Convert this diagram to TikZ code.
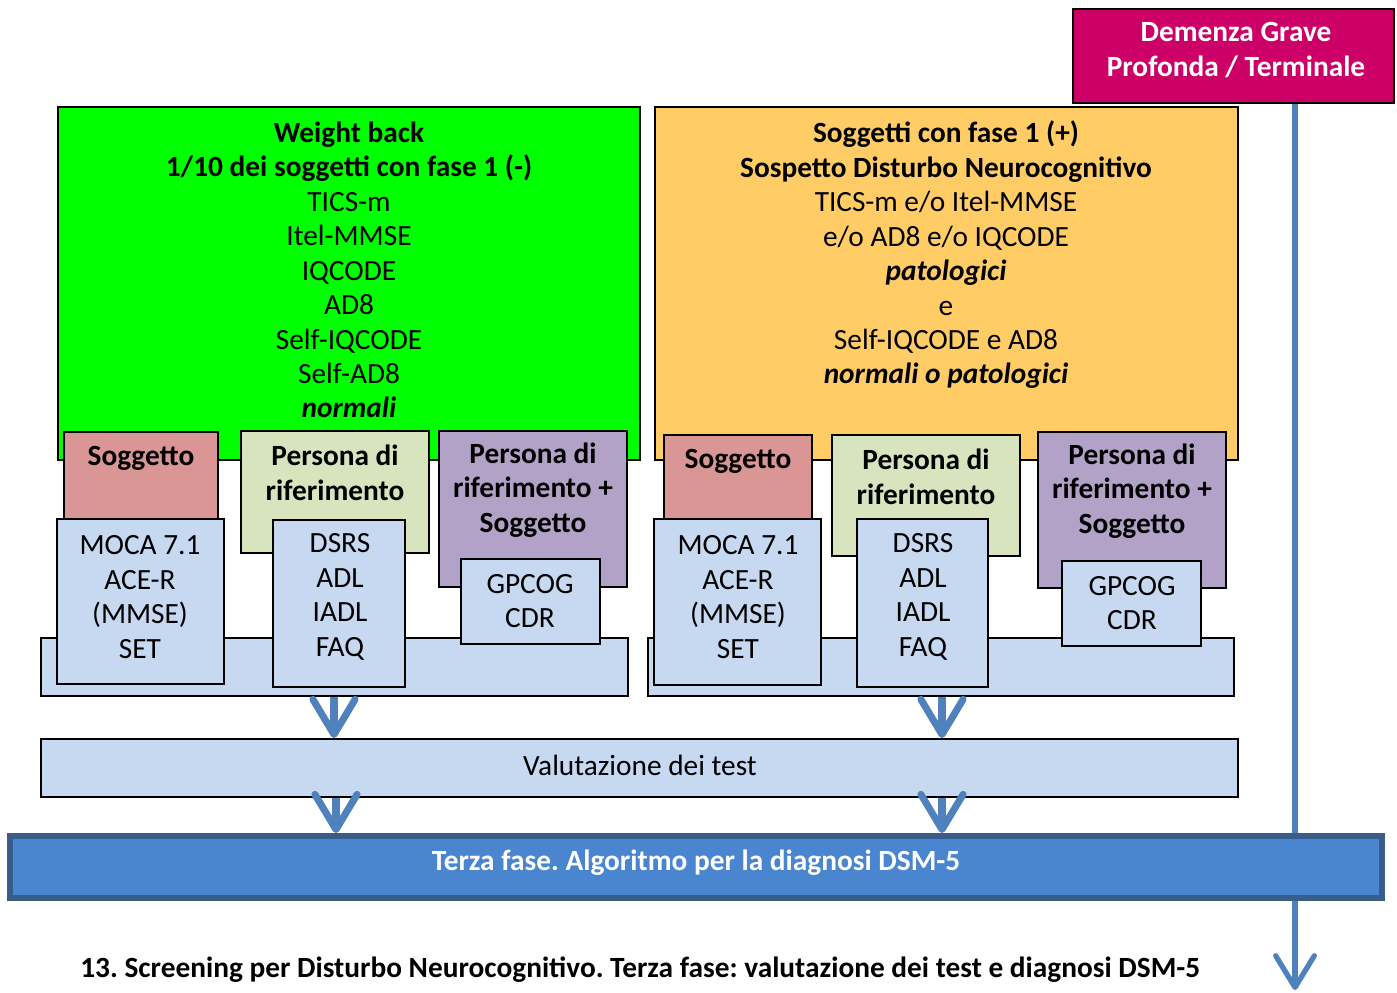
\documentclass[tikz,border=0pt]{standalone}
\usepackage{fontspec}
\setmainfont{Carlito}
\usetikzlibrary{arrows.meta,fit}
\definecolor{cgreen}{HTML}{00FF00}
\definecolor{corange}{HTML}{FFCC66}
\definecolor{csog}{HTML}{D99694}
\definecolor{cper}{HTML}{D7E4BD}
\definecolor{cpur}{HTML}{B3A2C7}
\definecolor{clb}{HTML}{C6D9F1}
\definecolor{cpink}{HTML}{CC0066}
\definecolor{cblue}{HTML}{4A86CF}
\definecolor{cblueb}{HTML}{385D8A}
\definecolor{carrow}{HTML}{4F81BD}
\newcommand\fs{\fontsize{16.7}{19.6}\selectfont}
\frenchspacing
\begin{document}
\begin{tikzpicture}[x=0.02cm,y=-0.02cm,
  bx/.style={draw=black, line width=1.1pt, inner sep=0pt},
  txt/.style={align=center, inner sep=0pt, font=\fs},
  btxt/.style={align=center, inner sep=0pt, font=\fs\bfseries},
  arr/.style={draw=carrow, line width=4pt, -{Straight Barb[round, length=20pt, width=24pt]}},
  arrv/.style={draw=carrow, line width=3pt, -{Straight Barb[round, length=18pt, width=22pt]}}]
\useasboundingbox (0,0) rectangle (1397,992);

% top right box
\node[bx, fill=cpink, fit={(1073,9) (1394,103)}] (dem) {};
\node[btxt, text=white] (demt) at (1236,50) {Demenza Grave\\Profonda / Terminale};

% vertical arrow
\coordinate (xr) at (1295,0);
\coordinate (vend) at (1295,990);
\draw[arrv] (dem.south -| xr) -- (vend);

% big boxes
\node[bx, fill=cgreen, fit={(58,107) (640,460)}] (gbox) {};
\node[txt] (gtxt) at (349,270) {\textbf{Weight back}\\\textbf{1/10 dei soggetti con fase 1 (-)}\\TICS-m\\Itel-MMSE\\IQCODE\\AD8\\Self-IQCODE\\Self-AD8\\\textbf{\itshape normali}};
\node[bx, fill=corange, fit={(655,107) (1238,460)}] (obox) {};
\node[txt] (otxt) at (946,255) {\textbf{Soggetti con fase 1 (+)}\\\textbf{Sospetto Disturbo Neurocognitivo}\\TICS-m e/o Itel-MMSE\\e/o AD8 e/o IQCODE\\\textbf{\itshape patologici}\\e\\Self-IQCODE e AD8\\\textbf{\itshape normali o patologici}};

% left group
\node[bx, fill=clb, fit={(41,638) (628,696)}] (lbar) {};
\node[bx, fill=csog, fit={(64,432) (218,520)}] (lsog) {};
\node[btxt] (lsogt) at (141,458) {Soggetto};
\node[bx, fill=clb, fit={(57,519) (224,684)}] (lmoca) {};
\node[txt] (lmocat) at (140,597) {MOCA 7.1\\ACE-R\\(MMSE)\\SET};
\node[bx, fill=cper, fit={(241,431) (429,553)}] (lper) {};
\node[btxt] (lpert) at (335,473) {Persona di\\riferimento};
\node[bx, fill=clb, fit={(273,520) (405,687)}] (ldsrs) {};
\node[txt] (ldsrst) at (340,597) {DSRS\\ADL\\IADL\\FAQ};
\node[bx, fill=cpur, fit={(439,431) (627,587)}] (lps) {};
\node[btxt] (lpst) at (533,490) {Persona di\\riferimento +\\Soggetto};
\node[bx, fill=clb, fit={(461,559) (600,644)}] (lgp) {};
\node[txt] (lgpt) at (530,601) {GPCOG\\CDR};

% right group
\node[bx, fill=clb, fit={(648,638) (1234,696)}] (rbar) {};
\node[bx, fill=csog, fit={(664,435) (812,520)}] (rsog) {};
\node[btxt] (rsogt) at (738,461) {Soggetto};
\node[bx, fill=clb, fit={(654,519) (821,685)}] (rmoca) {};
\node[txt] (rmocat) at (738,597) {MOCA 7.1\\ACE-R\\(MMSE)\\SET};
\node[bx, fill=cper, fit={(832,435) (1020,556)}] (rper) {};
\node[btxt] (rpert) at (926,477) {Persona di\\riferimento};
\node[bx, fill=clb, fit={(857,519) (988,687)}] (rdsrs) {};
\node[txt] (rdsrst) at (923,597) {DSRS\\ADL\\IADL\\FAQ};
\node[bx, fill=cpur, fit={(1038,432) (1226,588)}] (rps) {};
\node[btxt] (rpst) at (1132,491) {Persona di\\riferimento +\\Soggetto};
\node[bx, fill=clb, fit={(1062,561) (1201,646)}] (rgp) {};
\node[txt] (rgpt) at (1132,603) {GPCOG\\CDR};

% valutazione
\node[bx, fill=clb, fit={(41,739) (1238,797)}] (val) {};
\node[txt] (valt) at (640,765) {Valutazione dei test};

% terza fase
\node[draw=cblueb, line width=3.4pt, fill=cblue, inner sep=0pt, fit={(10,836) (1382,898)}] (terza) {};
\node[btxt, text=white] (terzat) at (696,863) {Terza fase. Algoritmo per la diagnosi DSM-5};

% arrows
\coordinate (xa) at (334,0);
\coordinate (xb) at (942,0);
\coordinate (xc) at (336,0);
\draw[arr] (lbar.south -| xa) -- (val.north -| xa);
\draw[arr] (rbar.south -| xb) -- (val.north -| xb);
\draw[arr] (val.south -| xc) -- (terza.north -| xc);
\draw[arr] (val.south -| xb) -- (terza.north -| xb);

% caption
\node[btxt, anchor=west] (cap) at (80,970) {13. Screening per Disturbo Neurocognitivo. Terza fase: valutazione dei test e diagnosi DSM-5};
\end{tikzpicture}
\end{document}
